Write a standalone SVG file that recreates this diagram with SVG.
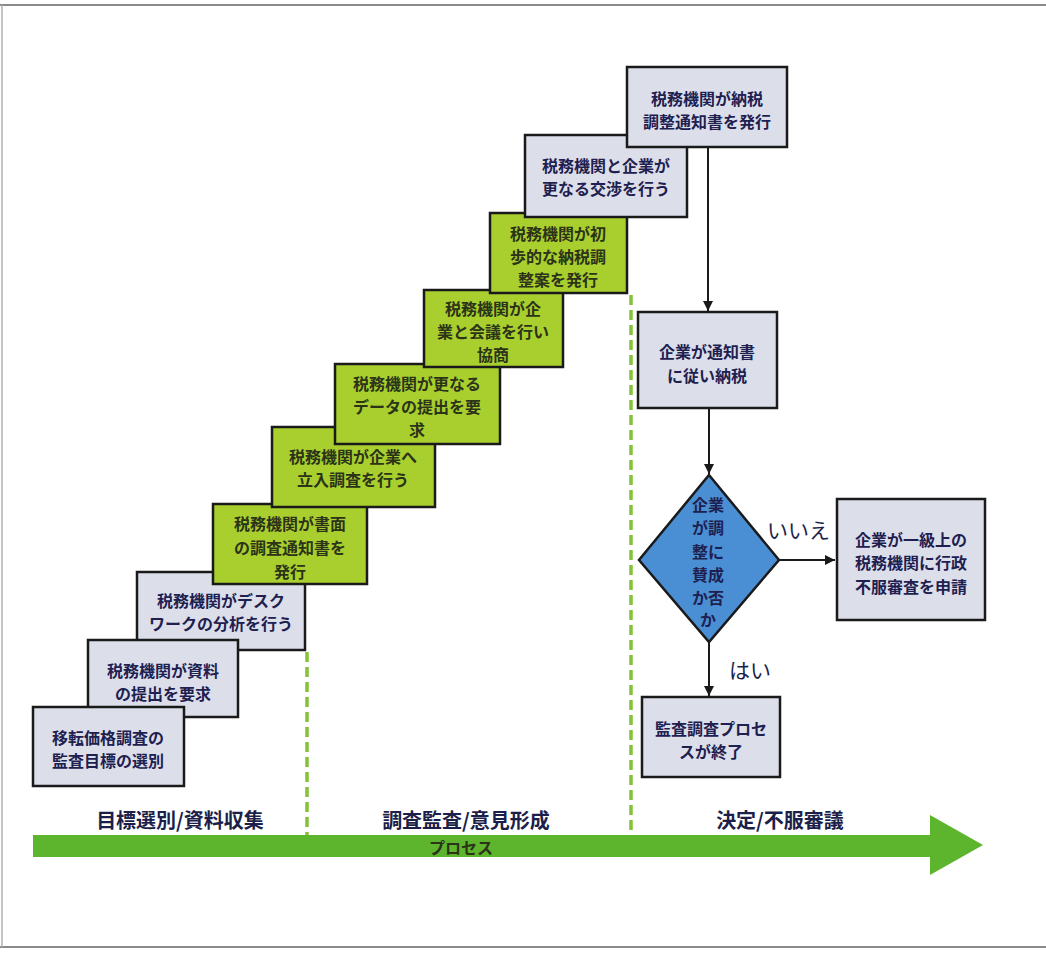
<svg xmlns="http://www.w3.org/2000/svg" width="1046" height="953" viewBox="0 0 1046 953">
<style>
.g{fill:#dcdfea;stroke:#1a1a1a;stroke-width:2.5}
.y{fill:#a9cf2e;stroke:#1a1a1a;stroke-width:2.5}
.t{font-family:"Noto Sans CJK JP","Noto Sans CJK SC",sans-serif;font-weight:bold;font-size:16px;text-anchor:middle;fill:#1e2050}
.ty{font-family:"Noto Sans CJK JP","Noto Sans CJK SC",sans-serif;font-weight:bold;font-size:16px;text-anchor:middle;fill:#2b3318}
.lab{font-family:"Noto Sans CJK JP","Noto Sans CJK SC",sans-serif;font-weight:bold;font-size:20px;text-anchor:middle;fill:#1c1f4a}
.yn{font-family:"Noto Sans CJK JP","Noto Sans CJK SC",sans-serif;font-size:21px;fill:#1c1f4a}
.c{stroke:#1a1a1a;stroke-width:2;fill:none}
.dash{stroke:#84c236;stroke-width:3.5;stroke-dasharray:10,5;fill:none}
</style>
<defs>
<marker id="ah" viewBox="0 0 10 10" refX="10" refY="5" markerWidth="5" markerHeight="5" orient="auto" markerUnits="strokeWidth">
<path d="M0,0 L10,5 L0,10 z" fill="#1a1a1a"/>
</marker>
</defs>
<rect x="0" y="0" width="1046" height="953" fill="#ffffff"/>
<g id="frame">
<line x1="0" y1="5" x2="1046" y2="5" stroke="#8a8a8a" stroke-width="2"/>
<line x1="0" y1="947" x2="1046" y2="947" stroke="#8a8a8a" stroke-width="2"/>
<line x1="2" y1="5" x2="2" y2="947" stroke="#b0b0b0" stroke-width="1.5"/>
</g>
<g id="phase-lines">
<line class="dash" x1="307" y1="652" x2="307" y2="836"/>
<line class="dash" x1="631" y1="295" x2="631" y2="836"/>
</g>
<g id="process-arrow">
<polygon points="33,835 930,835 930,815 983,845 930,875 930,857 33,857" fill="#5db52d"/>
<text class="ty" x="461" y="854" font-size="15">プロセス</text>
</g>
<g id="phase-labels">
<text class="lab" x="180" y="828">目標選別/資料収集</text>
<text class="lab" x="466" y="828">調査監査/意見形成</text>
<text class="lab" x="780" y="828">決定/不服審議</text>
</g>
<g id="n3"><rect class="g" x="137" y="572" width="168" height="78"/>
<text class="t" x="221" y="607">税務機関がデスク</text><text class="t" x="221" y="630">ワークの分析を行う</text></g>
<g id="n2"><rect class="g" x="88" y="640" width="150" height="77"/>
<text class="t" x="163" y="677">税務機関が資料</text><text class="t" x="163" y="700">の提出を要求</text></g>
<g id="n1"><rect class="g" x="33" y="707" width="151" height="79"/>
<text class="t" x="108" y="744">移転価格調査の</text><text class="t" x="108" y="767">監査目標の選別</text></g>
<g id="n4"><rect class="y" x="213" y="504" width="154" height="80"/>
<text class="ty" x="290" y="530">税務機関が書面</text><text class="ty" x="290" y="554">の調査通知書を</text><text class="ty" x="290" y="578">発行</text></g>
<g id="n5"><rect class="y" x="272" y="427" width="163" height="80"/>
<text class="ty" x="353" y="463">税務機関が企業へ</text><text class="ty" x="353" y="486">立入調査を行う</text></g>
<g id="n6"><rect class="y" x="335" y="364" width="165" height="80"/>
<text class="ty" x="417" y="390">税務機関が更なる</text><text class="ty" x="417" y="413">データの提出を要</text><text class="ty" x="417" y="436">求</text></g>
<g id="n7"><rect class="y" x="424" y="290" width="139" height="77"/>
<text class="ty" x="493" y="315">税務機関が企</text><text class="ty" x="493" y="338">業と会議を行い</text><text class="ty" x="493" y="361">協商</text></g>
<g id="n8"><rect class="y" x="490" y="213" width="137" height="80"/>
<text class="ty" x="558" y="240">税務機関が初</text><text class="ty" x="558" y="263">歩的な納税調</text><text class="ty" x="558" y="286">整案を発行</text></g>
<g id="n9"><rect class="g" x="525" y="135" width="162" height="82"/>
<text class="t" x="606" y="172">税務機関と企業が</text><text class="t" x="606" y="195">更なる交渉を行う</text></g>
<g id="n10"><rect class="g" x="627" y="67" width="160" height="80"/>
<text class="t" x="707" y="105">税務機関が納税</text><text class="t" x="707" y="128">調整通知書を発行</text></g>
<g id="connectors">
<line class="c" x1="708" y1="148" x2="708" y2="311" marker-end="url(#ah)"/>
<line class="c" x1="709" y1="409" x2="709" y2="474" marker-end="url(#ah)"/>
<line class="c" x1="780" y1="560" x2="835" y2="560" marker-end="url(#ah)"/>
<line class="c" x1="709" y1="643" x2="709" y2="696" marker-end="url(#ah)"/>
</g>
<g id="n11"><rect class="g" x="638" y="312" width="139" height="96"/>
<text class="t" x="707" y="358">企業が通知書</text><text class="t" x="707" y="382">に従い納税</text></g>
<g id="decision"><polygon points="709,475 779,560 709,642 639,560" fill="#4a8fd4" stroke="#1a1a1a" stroke-width="2.5"/>
<text class="t" x="708" y="511" font-size="17">企業</text><text class="t" x="708" y="534" font-size="17">が調</text><text class="t" x="708" y="558" font-size="17">整に</text><text class="t" x="708" y="581" font-size="17">賛成</text><text class="t" x="708" y="604" font-size="17">か否</text><text class="t" x="708" y="626" font-size="17">か</text></g>
<g id="n12"><rect class="g" x="837" y="499" width="148" height="121"/>
<text class="t" x="911" y="546">企業が一級上の</text><text class="t" x="911" y="569">税務機関に行政</text><text class="t" x="911" y="593">不服審査を申請</text></g>
<g id="n13"><rect class="g" x="642" y="697" width="138" height="80"/>
<text class="t" x="711" y="735">監査調査プロセ</text><text class="t" x="711" y="758">スが終了</text></g>
<g id="edge-labels">
<text class="yn" x="767" y="538">いいえ</text>
<text class="yn" x="729" y="678">はい</text>
</g>
</svg>
